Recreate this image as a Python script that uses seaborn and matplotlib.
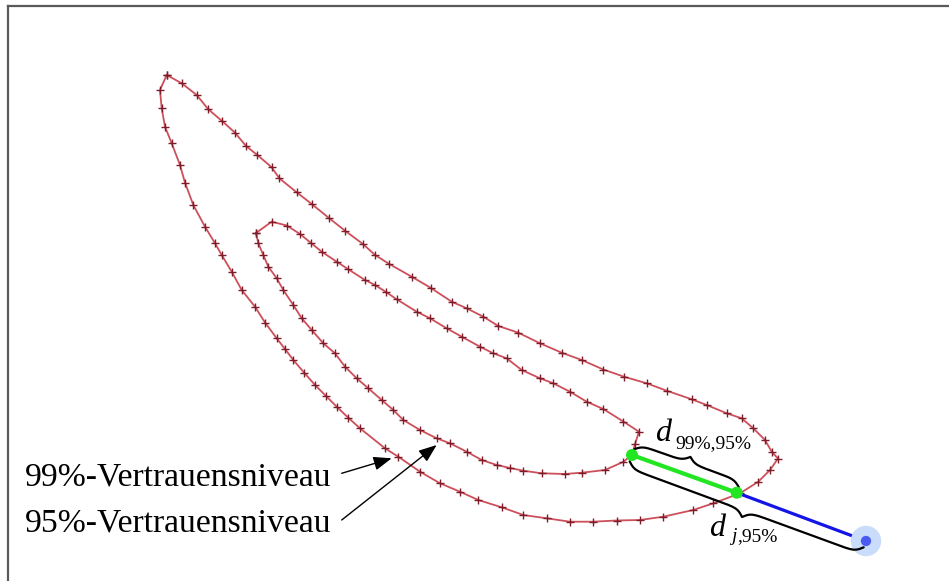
import numpy as np
import pandas as pd
import matplotlib
matplotlib.use("Agg")
import matplotlib.pyplot as plt
import seaborn as sns

# ---- data (pixel-space coordinates) ----
outer_x = [166.7, 181.7, 196.7, 208.3, 222.0, 235.0, 246.0, 257.3, 271.7, 279.3, 296.7, 311.7,
           329.3, 345.0, 363.3, 375.0, 389.3, 411.7, 431.0, 451.7, 466.7, 483.3, 498.3, 518.3,
           540.0, 561.7, 581.7, 603.3, 624.0, 646.7, 666.7, 691.7, 706.7, 726.7, 741.7, 753.3,
           765.0, 771.7, 778.0, 770.0, 758.3, 740.0, 713.3, 693.3, 663.3, 640.0, 616.7, 593.3,
           570.0, 546.7, 523.3, 501.7, 478.3, 460.0, 440.0, 420.0, 398.3, 385.0, 360.0, 348.0,
           336.7, 326.0, 315.0, 304.0, 293.3, 285.0, 276.7, 265.0, 255.0, 241.7, 231.7, 221.7,
           215.0, 205.0, 193.3, 185.0, 180.0, 171.7, 165.0, 161.7, 160.0]
outer_y = [75.0, 83.3, 95.0, 109.3, 121.0, 132.7, 146.0, 155.0, 167.3, 178.3, 192.3, 204.0,
           218.3, 230.7, 244.3, 255.0, 264.0, 276.7, 288.0, 301.7, 308.3, 316.7, 326.0, 332.7,
           343.3, 352.7, 360.0, 369.5, 376.7, 383.3, 390.7, 399.3, 405.0, 413.3, 418.3, 428.3,
           440.0, 451.7, 458.5, 470.0, 481.7, 493.3, 503.3, 510.0, 516.7, 520.0, 520.5, 521.7,
           521.7, 518.3, 515.0, 507.3, 500.0, 491.7, 483.3, 471.7, 456.7, 448.3, 428.3, 417.5,
           406.7, 396.0, 385.0, 372.5, 360.0, 349.0, 338.3, 322.5, 306.7, 290.0, 271.7, 255.0,
           243.3, 226.7, 205.0, 182.7, 165.0, 143.3, 126.7, 108.3, 90.0]

inner_x = [256.0, 271.7, 286.7, 300.0, 311.0, 321.7, 336.7, 348.3, 365.0, 375.0, 386.0, 396.7,
           416.7, 430.0, 446.7, 461.7, 480.0, 493.3, 506.7, 521.7, 540.0, 553.3, 570.0, 586.7,
           603.3, 623.3, 639.0, 635.0, 632.0, 623.0, 605.0, 581.7, 565.0, 541.7, 523.3, 510.0,
           496.7, 481.7, 466.7, 450.0, 436.7, 420.0, 403.3, 393.3, 381.7, 368.3, 356.7, 345.0,
           335.0, 323.3, 311.7, 301.7, 293.3, 283.3, 276.7, 268.3, 263.3, 258.3]
inner_y = [233.0, 221.7, 225.5, 234.0, 243.0, 251.7, 261.7, 269.3, 280.0, 285.0, 292.0, 299.3,
           311.7, 318.3, 328.3, 336.7, 346.7, 353.3, 358.3, 370.0, 378.3, 383.3, 391.7, 401.7,
           409.0, 421.5, 431.7, 444.0, 455.0, 462.0, 470.0, 472.7, 474.0, 473.3, 470.7, 468.0,
           465.0, 460.0, 451.7, 443.3, 438.3, 430.0, 420.0, 410.0, 400.0, 388.3, 378.3, 366.7,
           353.3, 343.3, 330.0, 318.3, 305.0, 290.0, 278.3, 266.7, 255.0, 243.3]

green_x = [632.0, 736.7]
green_y = [455.0, 492.7]
point_j_x = [866.0]
point_j_y = [541.0]

label_99 = "99%-Vertrauensniveau"
label_95 = "95%-Vertrauensniveau"
arrow_99_target = (391.7, 458.3)
arrow_95_target = (436.7, 445.0)

# ---- figure ----
W, H = 949, 581
sns.set_style("white")
plt.rcParams["font.family"] = ["Liberation Serif", "DejaVu Serif"]
plt.rcParams["text.color"] = "black"

fig = plt.figure(figsize=(W / 100, H / 100), dpi=100)
ax = fig.add_axes([8 / W, 0, (W - 8) / W, (H - 6) / H])
ax.set_xlim(8, W)
ax.set_ylim(H, 6)
for s in ["right", "bottom"]:
    ax.spines[s].set_visible(False)
for s in ["top", "left"]:
    ax.spines[s].set_color("#5a5a5a")
    ax.spines[s].set_linewidth(1.6)
ax.set_xticks([])
ax.set_yticks([])

line_col = "#cc4f5a"
mark_col = "#7e1c2a"

def closed_df(xs, ys):
    xs = list(xs) + [xs[0]]
    ys = list(ys) + [ys[0]]
    return pd.DataFrame({"x": xs, "y": ys, "order": range(len(xs))})

for xs, ys in [(outer_x, outer_y), (inner_x, inner_y)]:
    df = closed_df(xs, ys)
    sns.lineplot(data=df, x="x", y="y", sort=False, estimator=None, ax=ax,
                 color=line_col, linewidth=1.3, marker="+", markersize=6,
                 markeredgecolor=mark_col, markeredgewidth=1.0, legend=False)

# halo around point j
sns.scatterplot(x=point_j_x, y=point_j_y, s=480, color="#c9dcfb", edgecolor="none",
                ax=ax, zorder=3, legend=False)
# blue line j -> 99% contour, green line 99% -> 95%
sns.lineplot(x=[green_x[1], point_j_x[0]], y=[green_y[1], point_j_y[0]], sort=False,
             estimator=None, color="#1414e6", linewidth=2.3, ax=ax, legend=False)
sns.lineplot(x=green_x, y=green_y, sort=False, estimator=None, color="#22e622",
             linewidth=3.0, ax=ax, legend=False)
sns.scatterplot(x=green_x, y=green_y, s=75, color="#22e622", edgecolor="none",
                ax=ax, zorder=5, legend=False)
sns.scatterplot(x=point_j_x, y=point_j_y, s=55, color="#4a5cf0", edgecolor="none",
                ax=ax, zorder=5, legend=False)

# curly braces
def brace(p0, p1, scale, side, beta=0.28, n=160):
    p0 = np.asarray(p0, float)
    p1 = np.asarray(p1, float)
    d = p1 - p0
    L = np.hypot(*d)
    u = d / L
    nrm = np.array([u[1], -u[0]]) * side
    t = np.linspace(0, L / 2, n // 2 + 1)
    yh = 1 / (1 + np.exp(-beta * t)) + 1 / (1 + np.exp(-beta * (t - L / 2)))
    tt = np.concatenate([t, L - t[-2::-1]])
    yy = np.concatenate([yh, yh[-2::-1]])
    pts = p0[None, :] + u[None, :] * tt[:, None] + nrm[None, :] * (yy * scale)[:, None]
    return pts

b1 = brace((green_x[0], green_y[0]), (green_x[1], green_y[1]), 12, +1)
b2 = brace((green_x[0], green_y[0]), (point_j_x[0], point_j_y[0]), 13.5, -1)
for b in (b1, b2):
    ax.plot(b[:, 0], b[:, 1], color="black", linewidth=1.6, zorder=4,
            solid_capstyle="round")

# distance labels
ax.text(655, 441, "d", fontsize=23, style="italic", ha="left", va="baseline", color="black")
ax.text(675, 448.5, "99%,95%", fontsize=14, ha="left", va="baseline", color="black")
ax.text(709, 536.5, "d", fontsize=23, style="italic", ha="left", va="baseline", color="black")
ax.text(731, 541, "j", fontsize=14, style="italic", ha="left", va="baseline", color="black")
ax.text(737, 541, ",95%", fontsize=14, ha="left", va="baseline", color="black")

# level labels with arrows
ax.text(25, 485, label_99, fontsize=24.2, ha="left", va="baseline", color="black")
ax.text(25, 531.5, label_95, fontsize=24.2, ha="left", va="baseline", color="black")
arrowprops = dict(arrowstyle="-|>,head_length=1.1,head_width=0.42", color="black",
                  lw=1.0, shrinkA=0, shrinkB=0)
ax.annotate("", xy=arrow_99_target, xytext=(341.7, 473.3), arrowprops=arrowprops)
ax.annotate("", xy=arrow_95_target, xytext=(341.7, 520.0), arrowprops=arrowprops)

ax.set_xlabel("")
ax.set_ylabel("")
fig.savefig("out.png", dpi=100)
